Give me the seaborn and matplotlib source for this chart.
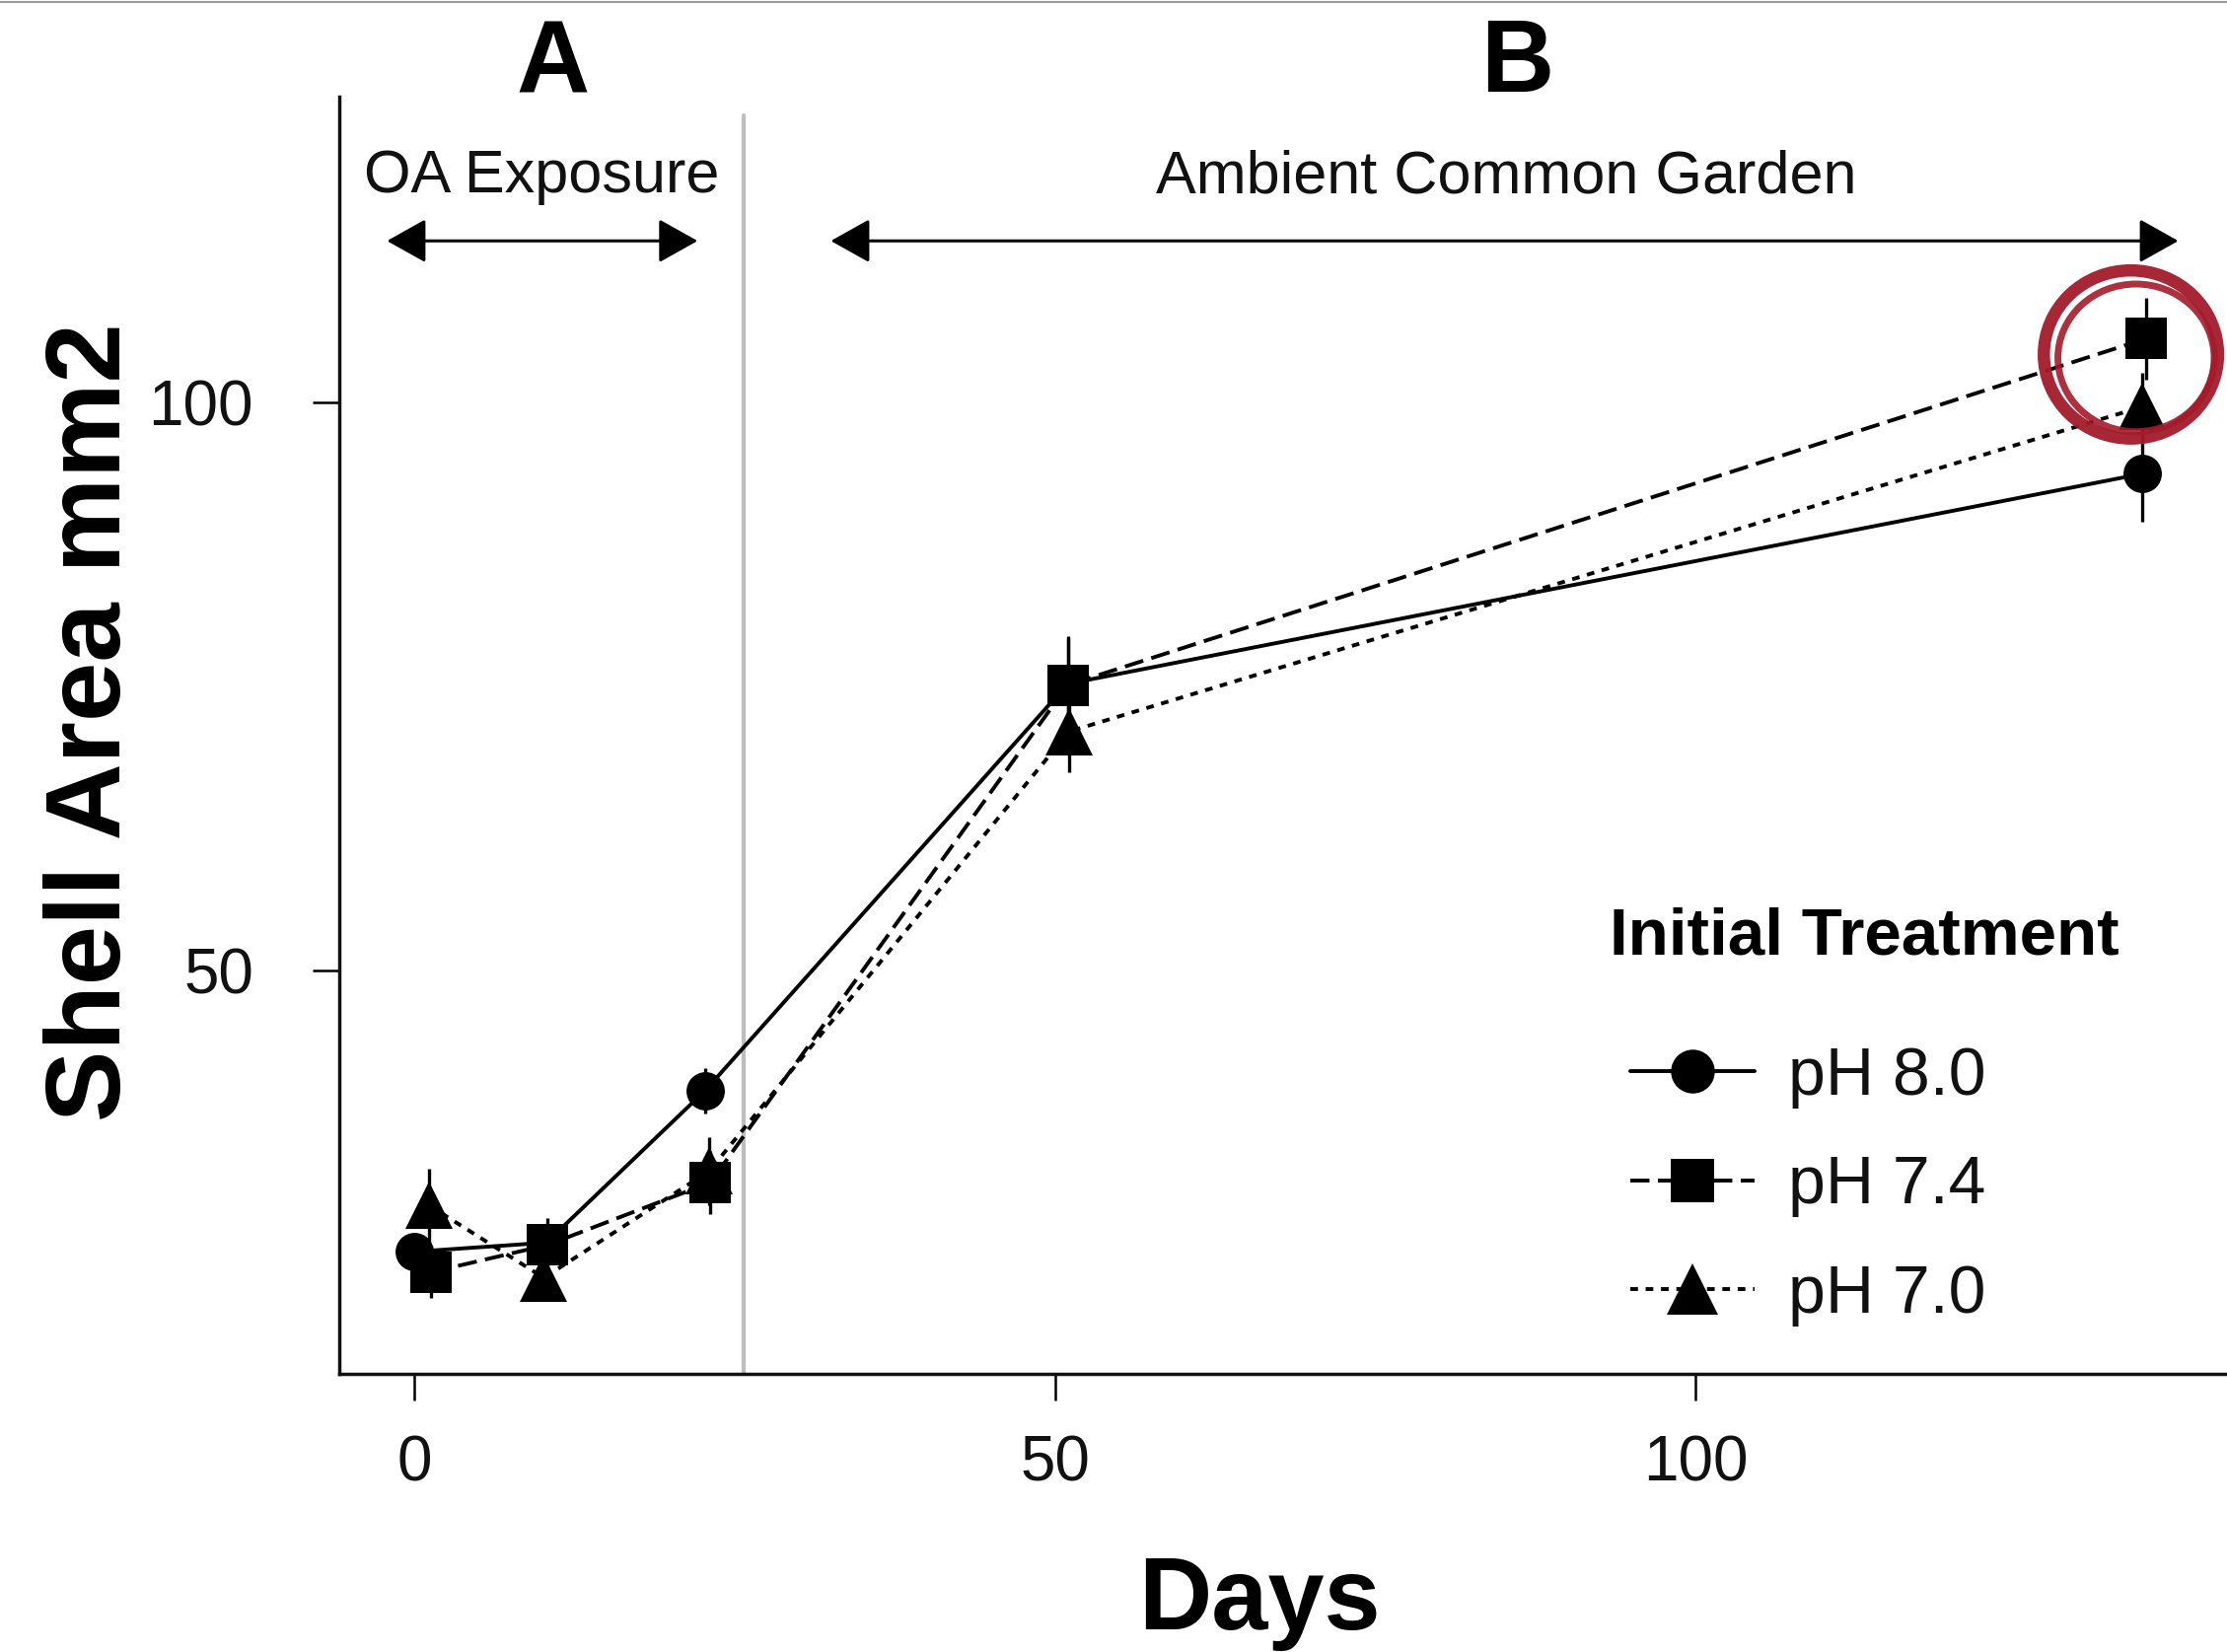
import numpy as np
import pandas as pd
import matplotlib
matplotlib.use("Agg")
import matplotlib.pyplot as plt
import seaborn as sns
from matplotlib.lines import Line2D
from matplotlib.patches import Ellipse

# ---------------- data ----------------
treatments = ["pH 8.0", "pH 7.4", "pH 7.0"]
days_ph80 = [0.0, 10.3, 22.7, 51.0, 134.9]
days_ph74 = [1.3, 10.4, 23.1, 51.0, 135.2]
days_ph70 = [1.1, 10.1, 23.0, 51.1, 134.9]
area_ph80 = [25.2, 26.0, 39.4, 75.2, 93.7]
area_ph74 = [23.4, 25.8, 31.3, 75.1, 105.6]
area_ph70 = [29.3, 22.9, 32.3, 71.0, 99.6]
err_ph80 = [1.5, 1.5, 2.0, 4.0, 4.2]
err_ph74 = [2.3, 2.4, 2.8, 4.3, 3.6]
err_ph70 = [3.2, 1.5, 3.0, 3.6, 3.0]
x_ticks = [0, 50, 100]
y_ticks = [50, 100]

days = [days_ph80, days_ph74, days_ph70]
areas = [area_ph80, area_ph74, area_ph70]
errs = [err_ph80, err_ph74, err_ph70]

df = pd.DataFrame({
    "Days": np.concatenate(days),
    "Area": np.concatenate(areas),
    "Treatment": np.repeat(treatments, [len(d) for d in days]),
})

# ---------------- style ----------------
sns.set_style("ticks")
plt.rcParams["font.family"] = ["Liberation Sans", "DejaVu Sans"]
plt.rcParams["text.color"] = "#111111"
plt.rcParams["axes.labelcolor"] = "#111111"

markers = {"pH 8.0": "o", "pH 7.4": "s", "pH 7.0": "^"}
dashes = {"pH 8.0": "", "pH 7.4": (5.0, 2.2), "pH 7.0": (2.0, 2.0)}
msizes = {"pH 8.0": 28, "pH 7.4": 30, "pH 7.0": 35}
LW = 2.8

fig = plt.figure(figsize=(22.58, 16.75), dpi=100)
ax = fig.add_axes([0.1522, 0.1684, 0.8478, 0.7731])

ax.axvline(25.67, ymin=0, ymax=0.985, color="#bdbdbd", lw=3, zorder=0)

for t, d, a, e in zip(treatments, days, areas, errs):
    ax.errorbar(d, a, yerr=e, fmt="none", ecolor="k", elinewidth=2.4,
                capsize=0, zorder=2)

n_before = len(ax.lines)
sns.lineplot(data=df, x="Days", y="Area", style="Treatment",
             style_order=treatments, markers=markers, dashes=dashes,
             color="k", lw=LW, markeredgecolor="k", markeredgewidth=0,
             errorbar=None, sort=False, legend=False, ax=ax, zorder=3)
for line, t in zip(ax.lines[n_before:], treatments):
    line.set_markersize(msizes[t])

ax.set_xlim(-5.9, 141.5)
ax.set_ylim(14.45, 126.9)
ax.set_xticks(x_ticks)
ax.set_yticks(y_ticks)
ax.set_xticklabels([str(v) for v in x_ticks])
ax.set_yticklabels([str(v) for v in y_ticks])
ax.tick_params(axis="both", length=19.4, width=1.8, color="k",
               labelsize=46, labelcolor="#111111")
ax.tick_params(axis="x", pad=25)
ax.tick_params(axis="y", pad=43)
for s in ["top", "right"]:
    ax.spines[s].set_visible(False)
for s in ["left", "bottom"]:
    ax.spines[s].set_linewidth(2.5)
    ax.spines[s].set_color("#111111")

ax.set_xlabel("Days", fontsize=74, fontweight="bold", color="black")
ax.xaxis.label.set_va("baseline")
ax.xaxis.set_label_coords(0.4873, -0.1998)
ax.set_ylabel("Shell Area mm2", fontsize=78, fontweight="bold",
              color="black")
ax.yaxis.label.set_va("center")
ax.yaxis.set_label_coords(-0.1305, 0.510)

# section labels
ax.text(10.8, 127.3, "A", fontsize=74, fontweight="bold", ha="center",
        va="baseline", clip_on=False, color="black")
ax.text(86.1, 127.3, "B", fontsize=74, fontweight="bold", ha="center",
        va="baseline", clip_on=False, color="black")
ax.text(9.95, 118.45, "OA Exposure", fontsize=44, ha="center",
        va="baseline", color="#111111")
ax.text(85.2, 118.45, "Ambient Common Garden", fontsize=44, ha="center",
        va="baseline", color="#111111")
arrow_kw = dict(arrowstyle="<|-|>,head_length=0.75,head_width=0.42",
                lw=2.2, color="k", mutation_scale=33, shrinkA=0, shrinkB=0)
ax.annotate("", xy=(22.1, 114.2), xytext=(-2.15, 114.2),
            arrowprops=arrow_kw, annotation_clip=False)
ax.annotate("", xy=(137.7, 114.2), xytext=(32.5, 114.2),
            arrowprops=arrow_kw, annotation_clip=False)

# red hand-drawn highlight
red = "#a41b2b"
ax.add_patch(Ellipse((134.0, 104.2), 13.6, 14.8, fill=False, ec=red,
                     lw=9, alpha=0.95, clip_on=False, zorder=5))
ax.add_patch(Ellipse((134.4, 103.9), 12.2, 13.0, fill=False,
                     ec=red, lw=5, alpha=0.9, clip_on=False, zorder=5))

# legend
handles = []
leg_ms = {"pH 8.0": 32, "pH 7.4": 31, "pH 7.0": 38}
for t in treatments:
    h = Line2D([], [], color="k", lw=LW, marker=markers[t],
               markersize=leg_ms[t], markeredgewidth=0)
    if dashes[t]:
        h.set_dashes(dashes[t])
    handles.append(h)
leg = ax.legend(handles, treatments, title="Initial Treatment",
                loc="upper left",
                bbox_to_anchor=(1632 / 2258, 1 - 919 / 1675),
                bbox_transform=fig.transFigure, frameon=False, fontsize=49,
                title_fontproperties={"weight": "bold", "size": 48.5},
                handlelength=1.85, handletextpad=0.5, labelspacing=0.68,
                borderpad=0, borderaxespad=0, alignment="left")
leg._legend_handle_box.pad = 15
leg._legend_box.sep = 42
leg.get_title().set_color("black")
for txt in leg.get_texts():
    txt.set_color("#111111")

fig.add_artist(Line2D([0, 1], [0.9988, 0.9988], transform=fig.transFigure,
                      color="#9a9a9a", lw=1.5))

fig.savefig("out.png", dpi=100)
